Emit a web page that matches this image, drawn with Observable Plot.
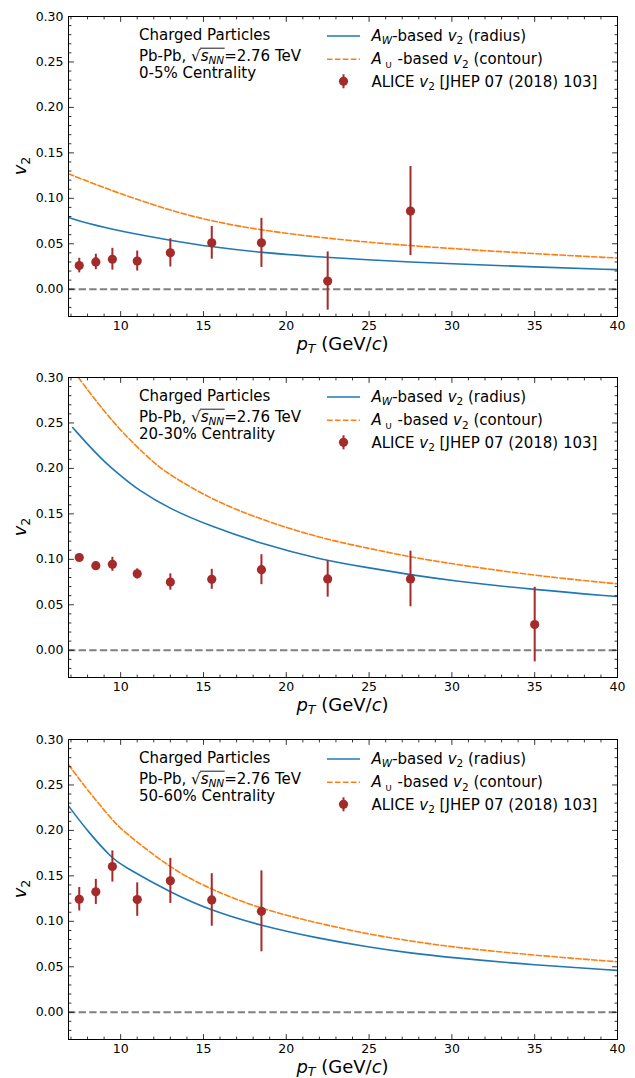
<!DOCTYPE html>
<html><head><meta charset="utf-8">
<script src="https://cdn.jsdelivr.net/npm/d3@7"></script>
<script src="https://cdn.jsdelivr.net/npm/@observablehq/plot@0.6"></script>
<style>body{margin:0;background:#fff;} svg{display:block;}</style>
</head><body><div id="chart"></div>
<script>
// ---- Data ----
const centralities = ["0-5% Centrality", "20-30% Centrality", "50-60% Centrality"];

// model curves (A_W radius: blue, A_U contour: orange)
const curvePt1 = [6.85, 8, 10, 13, 15.5, 18.5, 22, 25, 27.5, 30, 35, 40];
const blue1    = [0.079, 0.0722, 0.0637, 0.0537, 0.0465, 0.0403, 0.0355, 0.0322, 0.0300, 0.0280, 0.0245, 0.0215];
const orange1  = [0.127, 0.1187, 0.1048, 0.0865, 0.0748, 0.0648, 0.0570, 0.0515, 0.0480, 0.0447, 0.0390, 0.0343];

const bluePt2   = [7.1, 8, 9, 10, 11, 13, 15.5, 18.5, 22, 25, 27.5, 30, 35, 40];
const blue2     = [0.245, 0.2265, 0.2075, 0.192, 0.177, 0.155, 0.136, 0.117, 0.100, 0.0905, 0.083, 0.0765, 0.0665, 0.059];
const orangePt2 = [7.45, 8, 8.55, 10, 12, 13, 15.5, 18.5, 22, 25, 27.5, 30, 35, 40];
const orange2   = [0.300, 0.2865, 0.2733, 0.241, 0.2058, 0.1925, 0.1655, 0.1435, 0.1235, 0.112, 0.1025, 0.095, 0.082, 0.073];

const curvePt3 = [6.85, 8, 9.5, 10, 13, 15.5, 18.5, 22, 25, 27.5, 30, 35, 40];
const blue3    = [0.227, 0.199, 0.169, 0.1625, 0.1316, 0.1115, 0.095, 0.081, 0.0715, 0.065, 0.060, 0.0518, 0.046];
const orange3  = [0.2725, 0.244, 0.2115, 0.2015, 0.158, 0.1345, 0.1133, 0.0975, 0.0857, 0.0783, 0.0717, 0.0625, 0.0555];

// ALICE data points
const alicePt1 = [7.5, 8.5, 9.5, 11, 13, 15.5, 18.5, 22.5, 27.5];
const aliceV1  = [0.026, 0.030, 0.033, 0.031, 0.040, 0.051, 0.051, 0.009, 0.086];
const aliceE1  = [0.008, 0.0085, 0.012, 0.011, 0.0155, 0.018, 0.027, 0.032, 0.049];

const alicePt2 = [7.5, 8.5, 9.5, 11, 13, 15.5, 18.5, 22.5, 27.5, 35];
const aliceV2  = [0.102, 0.093, 0.0945, 0.084, 0.075, 0.078, 0.0886, 0.0784, 0.0784, 0.0282];
const aliceE2  = [0.004, 0.0045, 0.0077, 0.0055, 0.009, 0.011, 0.0165, 0.020, 0.0306, 0.041];

const alicePt3 = [7.5, 8.5, 9.5, 11, 13, 15.5, 18.5];
const aliceV3  = [0.1243, 0.1324, 0.1603, 0.1239, 0.1445, 0.1235, 0.111];
const aliceE3  = [0.0129, 0.0138, 0.0171, 0.0184, 0.0248, 0.0289, 0.0445];

// ticks
const xTicks = [10, 15, 20, 25, 30, 35, 40];
const yTicks = [0.00, 0.05, 0.10, 0.15, 0.20, 0.25, 0.30];
const xDomain = [6.85, 40];
const yDomain = [-0.03, 0.30];

// ---- styling ----
const W = 635, ML = 68, MR = 18, MT = 16, PH = 300;
const FONT = "DejaVu Sans";
const BLUE = "#1f77b4", ORANGE = "#ff7f0e", RED = "#a52a2a";

const xMinor = d3.range(7, 41).filter(v => v % 5 !== 0);
const yMinor = d3.range(-3, 31).filter(v => v % 5 !== 0).map(v => v / 100);
const tickShape = {draw(ctx, l) { ctx.moveTo(0, 0); ctx.lineTo(0, -l); }};

function tickMarks() {
  const common = {anchor: "start", shape: tickShape, stroke: "black", strokeWidth: 0.8};
  const m = [];
  for (const [vals, len] of [[xTicks, 5], [xMinor, 2.5]]) {
    m.push(Plot.vector(vals, {...common, x: d => d, frameAnchor: "bottom", length: len, rotate: 0}));
    m.push(Plot.vector(vals, {...common, x: d => d, frameAnchor: "top", length: len, rotate: 180}));
  }
  for (const [vals, len] of [[yTicks, 5], [yMinor, 2.5]]) {
    m.push(Plot.vector(vals, {...common, y: d => d, frameAnchor: "left", length: len, rotate: 90}));
    m.push(Plot.vector(vals, {...common, y: d => d, frameAnchor: "right", length: len, rotate: -90}));
  }
  return m;
}

function richText(g, x, y, parts, size, opts = {}) {
  const t = g.append("text").attr("x", x).attr("y", y)
    .attr("font-size", size).attr("font-family", FONT).attr("fill", "black")
    .attr("text-anchor", opts.anchor || "start");
  if (opts.transform) t.attr("transform", opts.transform);
  const sh = opts.subShift || 0.22;
  let shift = 0;
  for (const p of parts) {
    const s = t.append("tspan").text(p.t);
    if (p.i) s.attr("font-style", "italic");
    const target = p.sub ? size * sh : 0;
    if (target !== shift) { s.attr("dy", target - shift); shift = target; }
    if (p.sub) s.attr("font-size", size * 0.7);
  }
  return t;
}

function panel(cfg) {
  const {height, bx, by, ox, oy, px, pv, pe, cent} = cfg;
  const blueData = bx.map((x, i) => ({x, y: by[i]}));
  const orangeData = ox.map((x, i) => ({x, y: oy[i]}));
  const pts = px.map((x, i) => ({x, v: pv[i], e: pe[i]}));
  const chart = Plot.plot({
    width: W, height,
    marginLeft: ML, marginRight: MR, marginTop: MT, marginBottom: height - MT - PH,
    style: {fontFamily: FONT, fontSize: "12.5px", color: "black", background: "white"},
    x: {domain: xDomain},
    y: {domain: yDomain},
    marks: [
      Plot.ruleY([0], {stroke: "#808080", strokeWidth: 2, strokeDasharray: "7.4,3.2"}),
      Plot.line(blueData, {x: "x", y: "y", stroke: BLUE, strokeWidth: 1.6, curve: "basis", clip: true}),
      Plot.line(orangeData, {x: "x", y: "y", stroke: ORANGE, strokeWidth: 1.6, strokeDasharray: "5.55,2.4", curve: "basis", clip: true}),
      Plot.ruleX(pts, {x: "x", y1: d => d.v - d.e, y2: d => d.v + d.e, stroke: RED, strokeWidth: 2, clip: true}),
      Plot.dot(pts, {x: "x", y: "v", r: 4.6, fill: RED, stroke: null}),
      Plot.frame({stroke: "black", strokeWidth: 1}),
      Plot.axisX({ticks: xTicks, tickSize: 0, tickPadding: 5, tickFormat: d => String(d), label: null}),
      Plot.axisY({ticks: yTicks, tickSize: 0, tickPadding: 5, tickFormat: d => d.toFixed(2), label: null}),
      ...tickMarks()
    ]
  });
  document.getElementById("chart").appendChild(chart);
  const svg = d3.select(chart);
  const g = svg.append("g");
  const top = MT, bottom = MT + PH;
  const cx = (ML + W - MR) / 2;

  // axis labels
  richText(g, cx, bottom + 33.5, [{t: "p", i: true}, {t: "T", i: true, sub: true}, {t: " (GeV/"}, {t: "c", i: true}, {t: ")"}], 18, {anchor: "middle", subShift: 0.18});
  richText(g, 0, 0, [{t: "v", i: true}, {t: "2", sub: true}], 18, {anchor: "middle", transform: `translate(26,${(top + bottom) / 2}) rotate(-90)`});

  // annotation
  const ax = 139, fs = 15;
  richText(g, ax, top + 23.6, [{t: "Charged Particles"}], fs);
  const t2 = richText(g, ax, top + 44.5, [{t: "Pb-Pb, √"}, {t: "s", i: true}, {t: "NN", i: true, sub: true}, {t: "=2.76 TeV"}], fs);
  richText(g, ax, top + 62, [{t: cent}], fs);
  // overline of the square root
  try {
    const node = t2.node();
    const r0 = node.getExtentOfChar(7);
    const r1 = node.getExtentOfChar(10);
    const yl = top + 44.5 - 12.3;
    g.append("line").attr("x1", r0.x + r0.width - 0.8).attr("x2", r1.x + r1.width + 0.5)
      .attr("y1", yl).attr("y2", yl).attr("stroke", "black").attr("stroke-width", 0.9);
  } catch (e) {}

  // legend
  const lx1 = 327, lx2 = 360, tx = 371.5;
  const r1y = top + 20, r2y = top + 43.3, r3y = top + 65.3;
  g.append("line").attr("x1", lx1).attr("x2", lx2).attr("y1", r1y).attr("y2", r1y).attr("stroke", BLUE).attr("stroke-width", 1.6);
  g.append("line").attr("x1", lx1).attr("x2", lx2).attr("y1", r2y).attr("y2", r2y).attr("stroke", ORANGE).attr("stroke-width", 1.6).attr("stroke-dasharray", "5.55,2.4");
  g.append("line").attr("x1", 343.5).attr("x2", 343.5).attr("y1", r3y - 7).attr("y2", r3y + 7).attr("stroke", RED).attr("stroke-width", 2);
  g.append("circle").attr("cx", 343.5).attr("cy", r3y).attr("r", 4.6).attr("fill", RED);
  richText(g, tx, r1y + 5, [{t: "A", i: true}, {t: "W", i: true, sub: true}, {t: "-based "}, {t: "v", i: true}, {t: "2", sub: true}, {t: " (radius)"}], fs);
  richText(g, tx, r2y + 5, [{t: "A", i: true}, {t: " ∪", sub: true}, {t: " -based "}, {t: "v", i: true}, {t: "2", sub: true}, {t: " (contour)"}], fs);
  richText(g, tx, r3y + 5.2, [{t: "ALICE "}, {t: "v", i: true}, {t: "2", sub: true}, {t: " [JHEP 07 (2018) 103]"}], fs);
}

panel({height: 361, bx: curvePt1, by: blue1, ox: curvePt1, oy: orange1, px: alicePt1, pv: aliceV1, pe: aliceE1, cent: centralities[0]});
panel({height: 362, bx: bluePt2, by: blue2, ox: orangePt2, oy: orange2, px: alicePt2, pv: aliceV2, pe: aliceE2, cent: centralities[1]});
panel({height: 355, bx: curvePt3, by: blue3, ox: curvePt3, oy: orange3, px: alicePt3, pv: aliceV3, pe: aliceE3, cent: centralities[2]});
</script>
</body></html>
